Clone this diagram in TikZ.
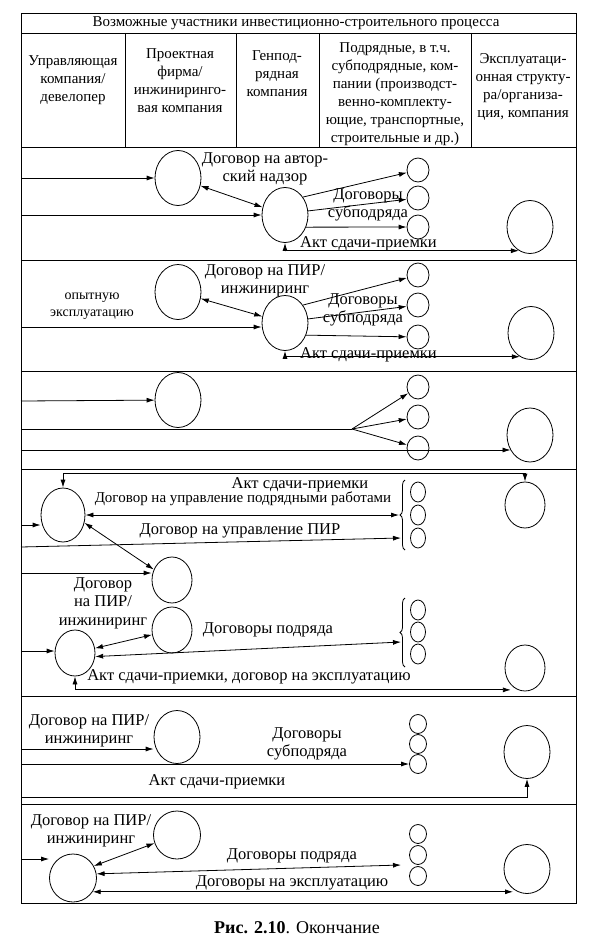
\documentclass[tikz,border=0pt]{standalone}
\usepackage{fontspec}
\setmainfont{Liberation Serif}
\usetikzlibrary{shapes.geometric,arrows.meta,decorations.pathreplacing}
\begin{document}
\begin{tikzpicture}[x=1pt,y=-1pt,
  >={Latex[length=8pt,width=5pt]},
  hdr/.style={inner sep=0pt,align=center,font=\fontsize{15}{18}\selectfont},
  lbl/.style={inner sep=0pt,align=center,font=\fontsize{16.5}{18.5}\selectfont},
  lbls/.style={inner sep=0pt,align=center,font=\fontsize{14}{17}\selectfont},
  frm/.style={line width=0.9pt},
  con/.style={line width=0.8pt},
  ov/.style={draw,ellipse,inner sep=0pt,line width=0.8pt},
  bigc/.style={ov,minimum width=46pt,minimum height=55pt},
  midc/.style={ov,minimum width=40pt,minimum height=46pt},
  smc/.style={ov,minimum width=22pt,minimum height=24pt},
  tnc/.style={ov,minimum width=15pt,minimum height=20pt},
  tn2/.style={ov,minimum width=17pt,minimum height=19pt},
  brc/.style={line width=0.8pt,decorate,decoration={brace,amplitude=5pt}}
]
\path[use as bounding box] (0,0) rectangle (594,950);

% table frame
\draw[frm] (21,13) rectangle (576,903);
\draw[frm] (21,33) -- (576,33);
\draw[frm] (21,147) -- (576,147);
\draw[frm] (21,260) -- (576,260);
\draw[frm] (21,371) -- (576,371);
\draw[frm] (21,469) -- (576,469);
\draw[frm] (21,696) -- (576,696);
\draw[frm] (21,804) -- (576,804);
\draw[frm] (125,33) -- (125,147);
\draw[frm] (236,33) -- (236,147);
\draw[frm] (319,33) -- (319,147);
\draw[frm] (471,33) -- (471,147);

% header
\node[hdr] (h0) at (296,23) {Возможные участники инвестиционно-строительного процесса};
\node[hdr] (h1) at (73,80) {Управляющая\\компания/\\девелопер};
\node[hdr] (h2) at (180,81) {Проектная\\фирма/\\инжиниринго-\\вая компания};
\node[hdr] (h3) at (277,74) {Генпод-\\рядная\\компания};
\node[hdr] (h4) at (395,94) {Подрядные, в т.ч.\\субподрядные, ком-\\пании (производст-\\венно-комплекту-\\ющие, транспортные,\\строительные и др.)};
\node[hdr] (h5) at (523,87) {Эксплуатаци-\\онная структу-\\ра/организа-\\ция, компания};

% ---------- row 1
\node[bigc] (a1) at (178,178) {};
\node[bigc] (b1) at (285,215) {};
\node[smc] (s1a) at (418,170) {};
\node[smc] (s1b) at (418,198) {};
\node[smc] (s1c) at (418,227) {};
\node[bigc,minimum height=53pt] (e1) at (530,227) {};
\node[lbl] (t1a) at (265,169) {Договор на автор-\\ский надзор};
\node[lbl] (t1b) at (368,205) {Договоры\\субподряда};
\node[lbl,anchor=west] (t1c) at (300,244) {Акт сдачи-приемки};
\coordinate (l1a) at (21,178);
\coordinate (l1b) at (21,215);
\draw[con,->] (l1a) -- (a1);
\draw[con,->] (l1b) -- (b1);
\draw[con,<->] (a1) -- (b1);
\draw[con,->] (b1.45) -- (s1a);
\draw[con,->] (b1.10) -- (s1b);
\draw[con,->] (b1.-30) -- (s1c);
\draw[con,<->] (b1.south) |- (e1.-115);

% ---------- row 2
\node[bigc] (a2) at (178,292) {};
\node[bigc] (b2) at (285,323) {};
\node[smc] (s2a) at (418,275) {};
\node[smc] (s2b) at (418,305) {};
\node[smc] (s2c) at (418,337) {};
\node[bigc,minimum height=53pt] (e2) at (531,333) {};
\node[lbl] (t2a) at (265,281) {Договор на ПИР/\\инжиниринг};
\node[lbls] (t2b) at (92,306) {опытную\\эксплуатацию};
\node[lbl] (t2c) at (363,310) {Договоры\\субподряда};
\node[lbl,anchor=west] (t2d) at (300,355) {Акт сдачи-приемки};
\coordinate (l2) at (21,327);
\draw[con,->] (l2) -- (l2 -| b2.west);
\draw[con,<->] (a2) -- (b2);
\draw[con,->] (b2.45) -- (s2a);
\draw[con,->] (b2.10) -- (s2b);
\draw[con,->] (b2.-30) -- (s2c);
\draw[con,<->] (b2.south) |- (e2.-115);

% ---------- row 3
\node[bigc] (a3) at (178,400) {};
\node[smc] (s3a) at (418,387) {};
\node[smc] (s3b) at (418,417) {};
\node[smc] (s3c) at (418,448) {};
\node[bigc,minimum height=54pt] (e3) at (530,435) {};
\coordinate (l3a) at (21,401);
\coordinate (l3b) at (21,429);
\coordinate (f3) at (352,429);
\coordinate (l3c) at (21,450);
\draw[con,->] (l3a) -- (a3);
\draw[con] (l3b) -- (f3);
\draw[con,->] (f3) -- (s3a);
\draw[con,->] (f3) -- (s3b);
\draw[con,->] (f3) -- (s3c);
\draw[con,->] (l3c) -- (l3c -| e3.218);

% ---------- row 4
\node[ov,minimum width=44pt,minimum height=54pt] (c4) at (63,515) {};
\node[midc] (e4) at (525,505) {};
\node[midc] (a4) at (172,580) {};
\node[midc] (b4) at (172,630) {};
\node[midc] (c4b) at (75,653) {};
\node[midc] (e4b) at (525,668) {};
\node[tnc] (r4a) at (418,492) {};
\node[tnc] (r4b) at (418,515) {};
\node[tnc] (r4c) at (418,538) {};
\node[tnc] (r4d) at (418,610) {};
\node[tnc] (r4e) at (418,632) {};
\node[tnc] (r4f) at (418,654) {};
\coordinate (bt1) at (405,480);
\coordinate (bb1) at (405,550);
\coordinate (bt2) at (405,598);
\coordinate (bb2) at (405,667);
\draw[brc] (bb1) -- (bt1);
\draw[brc] (bb2) -- (bt2);
\node[lbl] (t4a) at (300,485) {Акт сдачи-приемки};
\node[hdr] (t4b) at (243,499) {Договор на управление подрядными работами};
\node[lbl] (t4c) at (240,531) {Договор на управление ПИР};
\node[lbl] (t4d) at (103,603) {Договор\\на ПИР/\\инжиниринг};
\node[lbl] (t4e) at (268,630) {Договоры подряда};
\node[lbl] (t4f) at (249,677) {Акт сдачи-приемки, договор на эксплуатацию};
\coordinate (k4a) at (63,473);
\coordinate (k4b) at (525,473);
\draw[con,<->] (c4) -- (k4a) -- (k4b) -- (e4);
\coordinate (l4a) at (21,525);
\draw[con,->] (l4a) -- (l4a -| c4.west);
\coordinate (br1) at (399,515);
\draw[con,<->] (c4) -- (br1);
\coordinate (l4p) at (21,547);
\coordinate (p4) at (401,538);
\draw[con,->] (l4p) -- (p4);
\draw[con,<->] (c4.-20) -- (a4.150);
\coordinate (l4b) at (21,573);
\draw[con,->] (l4b) -- (l4b -| a4.west);
\coordinate (l4c) at (21,651);
\draw[con,->] (l4c) -- (l4c -| c4b.west);
\draw[con,<->] (c4b) -- (b4);
\coordinate (p4b) at (401,642);
\draw[con,<->] (c4b.-10) -- (p4b);
\draw[con,<->] (c4b.south) |- ([yshift=-5pt]e4b.-130);

% ---------- row 5
\node[bigc,minimum height=53pt] (a5) at (177,737) {};
\node[tn2] (r5a) at (418,724) {};
\node[tn2] (r5b) at (418,744) {};
\node[tn2] (r5c) at (418,764) {};
\node[bigc,minimum height=53pt] (e5) at (527,752) {};
\node[lbl] (t5a) at (89,731) {Договор на ПИР/\\инжиниринг};
\node[lbl] (t5b) at (307,744) {Договоры\\субподряда};
\node[lbl] (t5c) at (217,782) {Акт сдачи-приемки};
\coordinate (l5a) at (21,749);
\coordinate (l5b) at (21,764);
\coordinate (l5c) at (21,797);
\draw[con,->] (l5a) -- (l5a -| a5.west);
\draw[con,->] (l5b) -- (r5c);
\draw[con,->] (l5c) -| (e5.south);

% ---------- row 6
\node[ov,minimum width=47pt,minimum height=48pt] (a6) at (177,835) {};
\node[ov,minimum width=47pt,minimum height=48pt] (c6) at (73,878) {};
\node[tn2] (r6a) at (418,834) {};
\node[tn2] (r6b) at (418,855) {};
\node[tn2] (r6c) at (418,876) {};
\node[ov,minimum width=46pt,minimum height=49pt] (e6) at (527,869) {};
\node[lbl] (t6a) at (91,831) {Договор на ПИР/\\инжиниринг};
\node[lbl] (t6b) at (292,856) {Договоры подряда};
\node[lbl] (t6c) at (292,883) {Договоры на эксплуатацию};
\coordinate (l6) at (21,859);
\draw[con,->] (l6) -- (l6 -| c6.west);
\draw[con,<->] (c6.30) -- (a6.200);
\coordinate (p6) at (401,865);
\draw[con,<->] (c6.10) -- (p6);
\draw[con,<->] (c6.-35) -- (c6.-35 -| e6.-125);

% caption
\node[inner sep=0pt,font=\fontsize{18}{20}\selectfont] (cap) at (297,928) {\textbf{Рис. 2.10}. Окончание};
\end{tikzpicture}
\end{document}
